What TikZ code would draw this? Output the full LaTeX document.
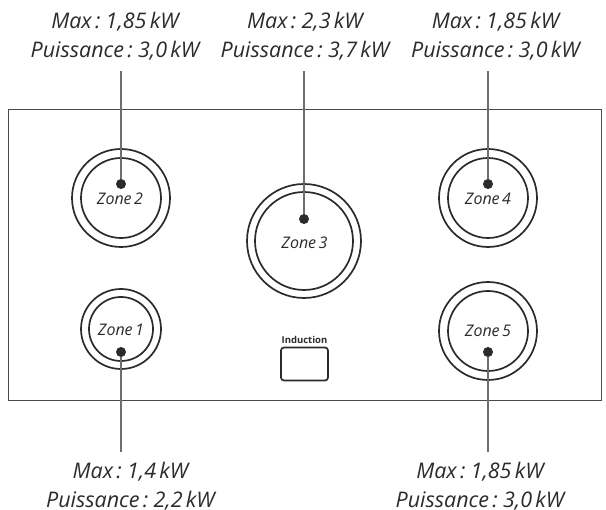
\documentclass[tikz,border=0pt]{standalone}
\usepackage{fontspec}
\setmainfont{Open Sans}[WordSpace=0.6]
\tikzset{
  x=1pt,y=-1pt,
  burner/.style={circle,draw=ink,line width=1.7pt,inner sep=0pt,fill=none},
  dotnode/.style={circle,fill=ink,inner sep=0pt,minimum size=10pt},
  lead/.style={draw=leadc,line width=1.6pt},
  spec/.style={font=\fontsize{21.5}{28.5}\selectfont\itshape,text=ink,align=center,inner sep=0pt},
  zonelabel/.style={font=\fontsize{16}{18}\selectfont\itshape,text=ink,inner sep=0pt},
}
\definecolor{ink}{HTML}{2B2B2B}
\definecolor{leadc}{HTML}{6E6E6E}
\begin{document}
\begin{tikzpicture}[x=1pt,y=-1pt]
\useasboundingbox (0,0) rectangle (606,510);
\node[draw=ink!85,line width=1.2pt,minimum width=593pt,minimum height=291pt,inner sep=0pt,anchor=north west] (hob) at (7.5,109) {};
% burners
\node[burner,minimum size=98pt] (o2) at (121,198) {};
\node[burner,minimum size=80pt] (i2) at (121,198) {};
\node[burner,minimum size=114pt] (o3) at (304,241) {};
\node[burner,minimum size=98pt] (i3) at (304,241) {};
\node[burner,minimum size=98pt] (o4) at (488,198) {};
\node[burner,minimum size=80pt] (i4) at (488,198) {};
\node[burner,minimum size=80pt] (o1) at (121,329) {};
\node[burner,minimum size=64pt] (i1) at (121,329) {};
\node[burner,minimum size=98pt] (o5) at (488,331) {};
\node[burner,minimum size=80pt] (i5) at (488,331) {};
% zone labels
\node[zonelabel] (z2) at (120,199) {Zone 2};
\node[zonelabel] (z3) at (304.5,243) {Zone 3};
\node[zonelabel] (z4) at (488,199) {Zone 4};
\node[zonelabel] (z1) at (121,330) {Zone 1};
\node[zonelabel] (z5) at (488,331) {Zone 5};
% dots
\node[dotnode] (d2) at (121,184) {};
\node[dotnode] (d3) at (304,219) {};
\node[dotnode] (d4) at (488,184) {};
\node[dotnode] (d1) at (121,352) {};
\node[dotnode] (d5) at (488,352) {};
% free ends
\coordinate (e2) at (121,71);
\coordinate (e3) at (304,71);
\coordinate (e4) at (488,71);
\coordinate (e1) at (121,452);
\coordinate (e5) at (488,452);
\draw[lead] (e2) -- (d2);
\draw[lead] (e3) -- (d3);
\draw[lead] (e4) -- (d4);
\draw[lead] (e1) -- (d1);
\draw[lead] (e5) -- (d5);
% specs
\node[spec] (s2) at (115,36) {Max : 1,85 kW\\Puissance : 3,0 kW};
\node[spec] (s3) at (305,36) {Max : 2,3 kW\\Puissance : 3,7 kW};
\node[spec] (s4) at (495.5,36) {Max : 1,85 kW\\Puissance : 3,0 kW};
\node[spec] (s1) at (130.5,486) {Max : 1,4 kW\\Puissance : 2,2 kW};
\node[spec] (s5) at (480,486) {Max : 1,85 kW\\Puissance : 3,0 kW};
% induction button
\node[draw=ink,line width=1.7pt,rounded corners=3pt,minimum width=47pt,minimum height=33pt,inner sep=0pt] (btn) at (304.5,364) {};
\node[font=\fontsize{9.5}{9.5}\selectfont\bfseries,text=ink,inner sep=0pt] (ind) at (304.5,340) {Induction};
\end{tikzpicture}
\end{document}
